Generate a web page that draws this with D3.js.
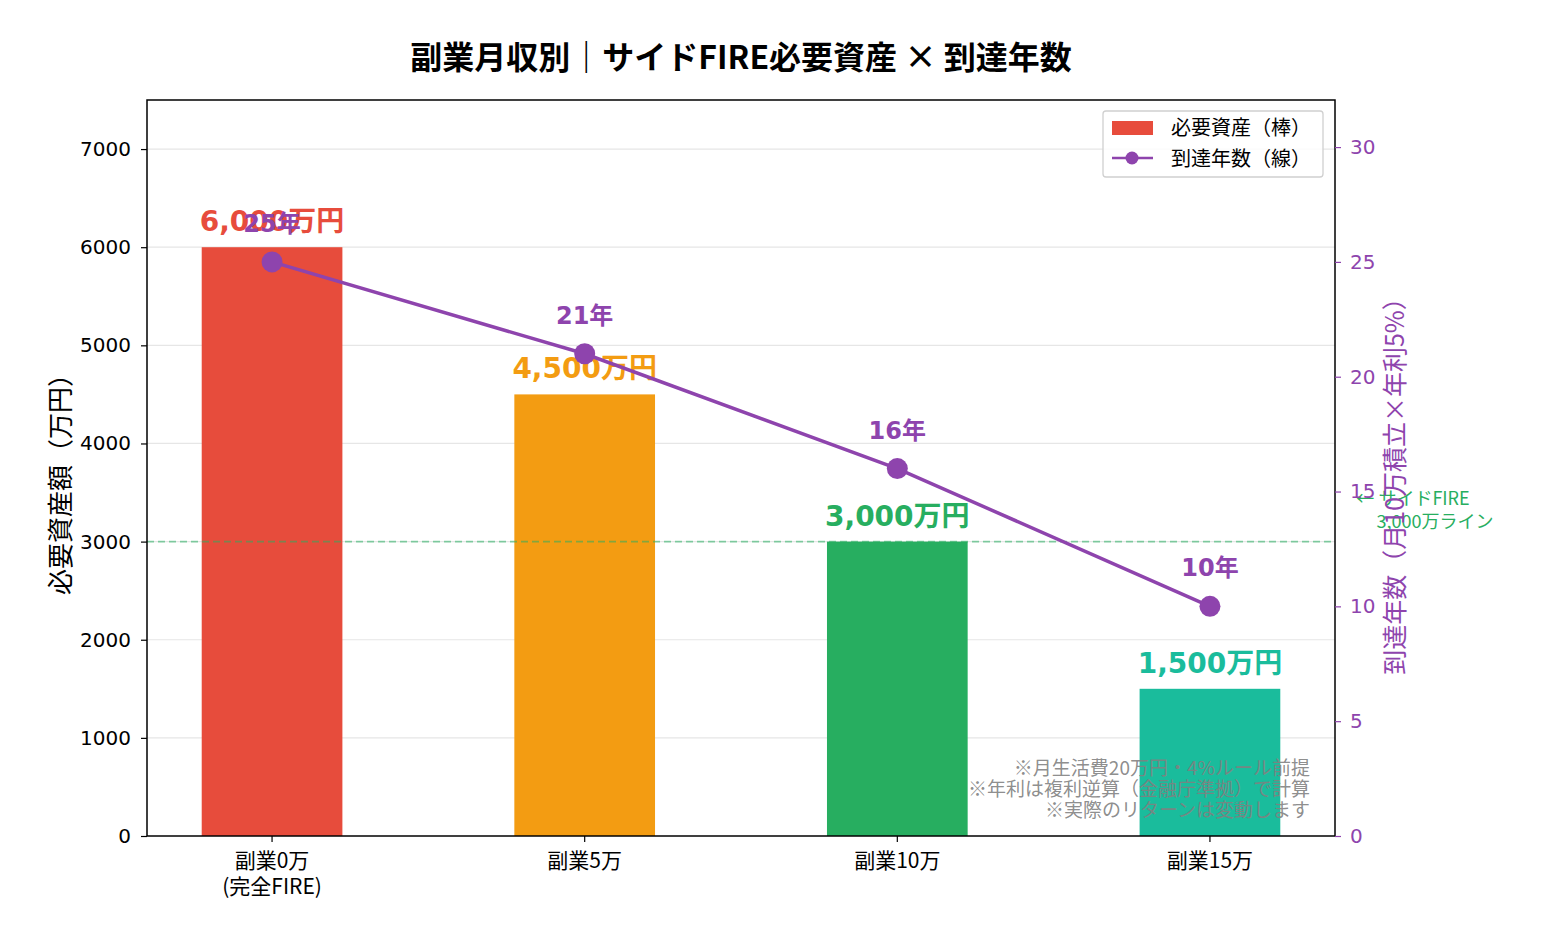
<!DOCTYPE html>
<html><head><meta charset="utf-8">
<script src="https://cdn.jsdelivr.net/npm/d3@7"></script>
<style>
body{margin:0;background:#fff;}
text{font-family:"Noto Sans CJK JP","Noto Sans",sans-serif;}
.num{font-family:"DejaVu Sans","Noto Sans CJK JP",sans-serif;}
</style></head>
<body><svg id="c" width="1545" height="945"></svg>
<script>
const categories = ["副業0万\n(完全FIRE)", "副業5万", "副業10万", "副業15万"];
const assets = [6000, 4500, 3000, 1500];
const assetLabels = ["6,000万円", "4,500万円", "3,000万円", "1,500万円"];
const years = [25, 21, 16, 10];
const barColors = ["#e74c3c", "#f39c12", "#27ae60", "#1abc9c"];
const leftTicks = [0, 1000, 2000, 3000, 4000, 5000, 6000, 7000];
const rightTicks = [0, 5, 10, 15, 20, 25, 30];
const fireLine = 3000;
const notes = ["※月生活費20万円・4%ルール前提", "※年利は複利逆算（金融庁準拠）で計算", "※実際のリターンは変動します"];

const purple = "#8e44ad";
const svg = d3.select("#c");
const L = 147, R = 1335, T = 100, B = 836;
const x = d3.scaleLinear().domain([-0.4, 3.4]).range([L, R]);
const y = d3.scaleLinear().domain([0, 7500]).range([B, T]);
const y2 = d3.scaleLinear().domain([0, 32.05]).range([B, T]);
const bw = x(0.45) - x(0);

// grid
svg.append("g").selectAll("line").data(leftTicks.filter(d => d > 0)).join("line")
  .attr("x1", L).attr("x2", R).attr("y1", d => y(d)).attr("y2", d => y(d))
  .attr("stroke", "#e6e6e6").attr("stroke-width", 1.2);

// bars
svg.append("g").selectAll("rect").data(assets).join("rect")
  .attr("x", (d, i) => x(i) - bw / 2).attr("width", bw)
  .attr("y", d => y(d)).attr("height", d => B - y(d))
  .attr("fill", (d, i) => barColors[i]);

// fire line
svg.append("line").attr("x1", L).attr("x2", R).attr("y1", y(fireLine)).attr("y2", y(fireLine))
  .attr("stroke", "#27ae60").attr("stroke-opacity", 0.55).attr("stroke-width", 1.8).attr("stroke-dasharray", "7,4");

// bar labels
svg.append("g").selectAll("text").data(assets).join("text")
  .attr("class", "num")
  .attr("x", (d, i) => x(i)).attr("y", d => y(d) - 16)
  .attr("text-anchor", "middle").attr("font-size", 28).attr("font-weight", "bold")
  .attr("fill", (d, i) => barColors[i]).text((d, i) => assetLabels[i]);

// notes
svg.append("g").selectAll("text").data(notes).join("text")
  .attr("x", 1310).attr("y", (d, i) => 775 + i * 21).attr("text-anchor", "end")
  .attr("font-size", 19).attr("fill", "#808080").attr("fill-opacity", 0.9).text(d => d);

// annotation
const ann = svg.append("text").attr("font-size", 18).attr("fill", "#27ae60").attr("text-anchor", "middle");
ann.append("tspan").attr("x", 1413).attr("y", y(fireLine) - 37).text("← サイドFIRE");
ann.append("tspan").attr("x", 1435).attr("y", y(fireLine) - 14).text("3,000万ライン");

// line
const line = d3.line().x((d, i) => x(i)).y(d => y2(d));
svg.append("path").datum(years).attr("d", line).attr("fill", "none")
  .attr("stroke", purple).attr("stroke-width", 3.5);
svg.append("g").selectAll("circle").data(years).join("circle")
  .attr("cx", (d, i) => x(i)).attr("cy", d => y2(d)).attr("r", 10.5).attr("fill", purple);
svg.append("g").selectAll("text").data(years).join("text")
  .attr("class", "num")
  .attr("x", (d, i) => x(i)).attr("y", d => y2(d) - 30)
  .attr("text-anchor", "middle").attr("font-size", 24).attr("font-weight", "bold")
  .attr("fill", purple).text(d => d + "年");

// frame
svg.append("rect").attr("x", L).attr("y", T).attr("width", R - L).attr("height", B - T)
  .attr("fill", "none").attr("stroke", "#000").attr("stroke-width", 1.5);

// left axis
const la = svg.append("g").attr("transform", `translate(${L},0)`)
  .call(d3.axisLeft(y).tickValues(leftTicks).tickSize(6).tickPadding(10).tickFormat(d3.format("d")));
la.select(".domain").remove();
la.selectAll("text").attr("font-size", 20).attr("fill", "#000").style("font-family", "'DejaVu Sans'");
la.selectAll("line").attr("stroke", "#000").attr("stroke-width", 1.2);

// right axis
const ra = svg.append("g").attr("transform", `translate(${R},0)`)
  .call(d3.axisRight(y2).tickValues(rightTicks).tickSize(6).tickPadding(9));
ra.select(".domain").remove();
ra.selectAll("text").attr("font-size", 20).attr("fill", purple).style("font-family", "'DejaVu Sans'");
ra.selectAll("line").attr("stroke", purple).attr("stroke-width", 1.2);

// x axis
const xa = svg.append("g").attr("transform", `translate(0,${B})`);
categories.forEach((c, i) => {
  xa.append("line").attr("x1", x(i)).attr("x2", x(i)).attr("y1", 0).attr("y2", 6).attr("stroke", "#000").attr("stroke-width", 1.2);
  const t = xa.append("text").attr("text-anchor", "middle").attr("font-size", 21).attr("fill", "#000");
  c.split("\n").forEach((s, j) => t.append("tspan").attr("x", x(i)).attr("y", 32 + j * 26).text(s));
});

// axis titles
svg.append("text").attr("transform", `translate(70,${(T + B) / 2 + 10}) rotate(-90)`)
  .attr("text-anchor", "middle").attr("font-size", 26).attr("fill", "#000").text("必要資産額（万円）");
svg.append("text").attr("transform", `translate(1404,${(T + B) / 2 + 12}) rotate(-90)`)
  .attr("text-anchor", "middle").attr("font-size", 25).attr("fill", purple).text("到達年数（月10万積立×年利5%）");

// title
svg.append("text").attr("x", 741).attr("y", 69).attr("text-anchor", "middle")
  .attr("font-size", 32).attr("font-weight", "bold").attr("fill", "#000")
  .text("副業月収別｜サイドFIRE必要資産 × 到達年数");

// legend
const lg = svg.append("g");
lg.append("rect").attr("x", 1103).attr("y", 111).attr("width", 220).attr("height", 66).attr("rx", 3)
  .attr("fill", "#fff").attr("fill-opacity", 0.85).attr("stroke", "#d0d0d0").attr("stroke-width", 1.3);
lg.append("rect").attr("x", 1112).attr("y", 121).attr("width", 41).attr("height", 14).attr("fill", barColors[0]);
lg.append("line").attr("x1", 1112).attr("x2", 1153).attr("y1", 158).attr("y2", 158).attr("stroke", purple).attr("stroke-width", 2.5);
lg.append("circle").attr("cx", 1132).attr("cy", 158).attr("r", 6.5).attr("fill", purple);
lg.append("text").attr("x", 1171).attr("y", 135).attr("font-size", 20).attr("fill", "#000").text("必要資産（棒）");
lg.append("text").attr("x", 1171).attr("y", 166).attr("font-size", 20).attr("fill", "#000").text("到達年数（線）");
</script></body></html>
